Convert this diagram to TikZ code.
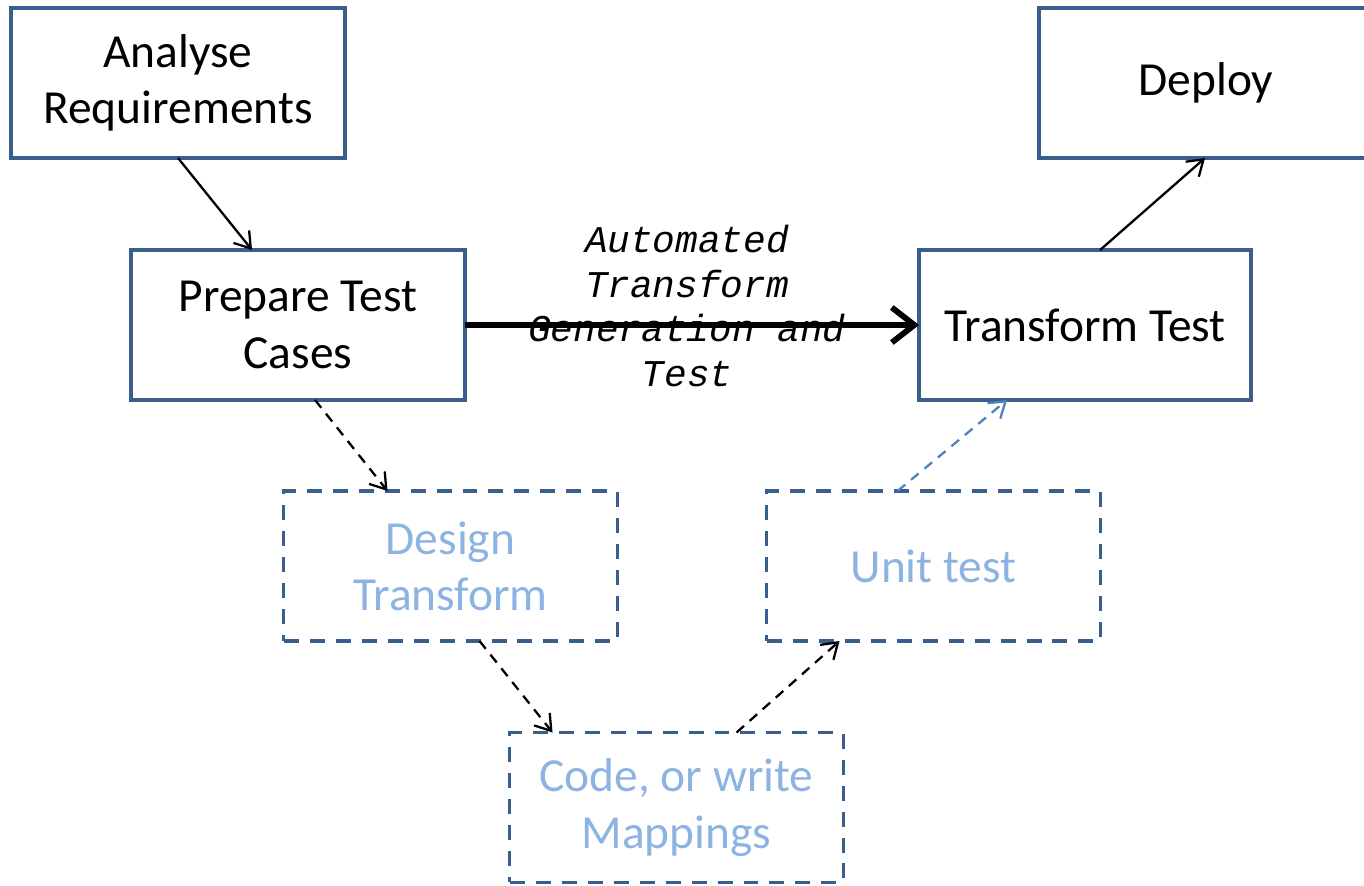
\documentclass[tikz,border=0pt]{standalone}
\usepackage{fontspec}
\setmainfont{Carlito}
\newfontfamily\lblfont{Liberation Mono}
\usetikzlibrary{arrows.meta,calc}
\definecolor{boxblue}{RGB}{58,95,140}
\definecolor{paleblue}{RGB}{141,179,226}
\definecolor{linkblue}{RGB}{79,129,189}
\begin{document}
\begin{tikzpicture}[x=0.02cm,y=-0.02cm,
  box/.style={draw=boxblue, line width=2pt, minimum width=6.68cm, minimum height=3cm,
    inner sep=0pt, outer sep=0pt, align=center, font=\fontsize{27}{32}\selectfont},
  dbox/.style={box, dash pattern=on 0.3cm off 0.22cm, text=paleblue},
  link/.style={line width=1.3pt, -{Straight Barb[length=0.3cm,width=0.4cm,line width=1.3pt]}},
  dlink/.style={link, dash pattern=on 0.2cm off 0.15cm},
  biglink/.style={line width=3.3pt, -{Straight Barb[length=0.45cm,width=0.7cm,line width=3.3pt]}},
  lbl/.style={align=center, font=\lblfont\itshape\fontsize{21.5}{25.5}\selectfont, inner sep=0pt}
]
\useasboundingbox (0,0) rectangle (1364,885);
\node[box] (A) at (178,83) {Analyse\\Requirements};
\node[box] (D) at (1206,83) {Deploy};
\node[box] (P) at (298,325) {Prepare Test\\Cases};
\node[box, minimum width=6.64cm] (T) at (1085,325) {Transform Test};
\node[dbox] (Des) at (450.5,566) {Design\\Transform};
\node[dbox] (U) at (933.5,566) {Unit test};
\node[dbox] (C) at (676.5,807.5) {Code, or write\\Mappings};

\draw[link] (A.south) -- ($(P.north west)+(121,0)$);
\draw[biglink] (P.east) -- (T.west);
\node[lbl] (L) at (687,306) {Automated\\Transform\\Generation and\\Test};
\draw[dlink] ($(P.south west)+(184,0)$) -- ($(Des.north west)+(104,0)$);
\draw[dlink] ($(Des.south west)+(196,0)$) -- ($(C.north west)+(43,0)$);
\draw[dlink] ($(C.north west)+(227,0)$) -- ($(U.south west)+(73,0)$);
\draw[dlink, draw=linkblue] ($(U.north west)+(131,0)$) -- ($(T.south west)+(88,0)$);
\draw[link] ($(T.north west)+(181,0)$) -- ($(D.south west)+(166,0)$);
\end{tikzpicture}
\end{document}
